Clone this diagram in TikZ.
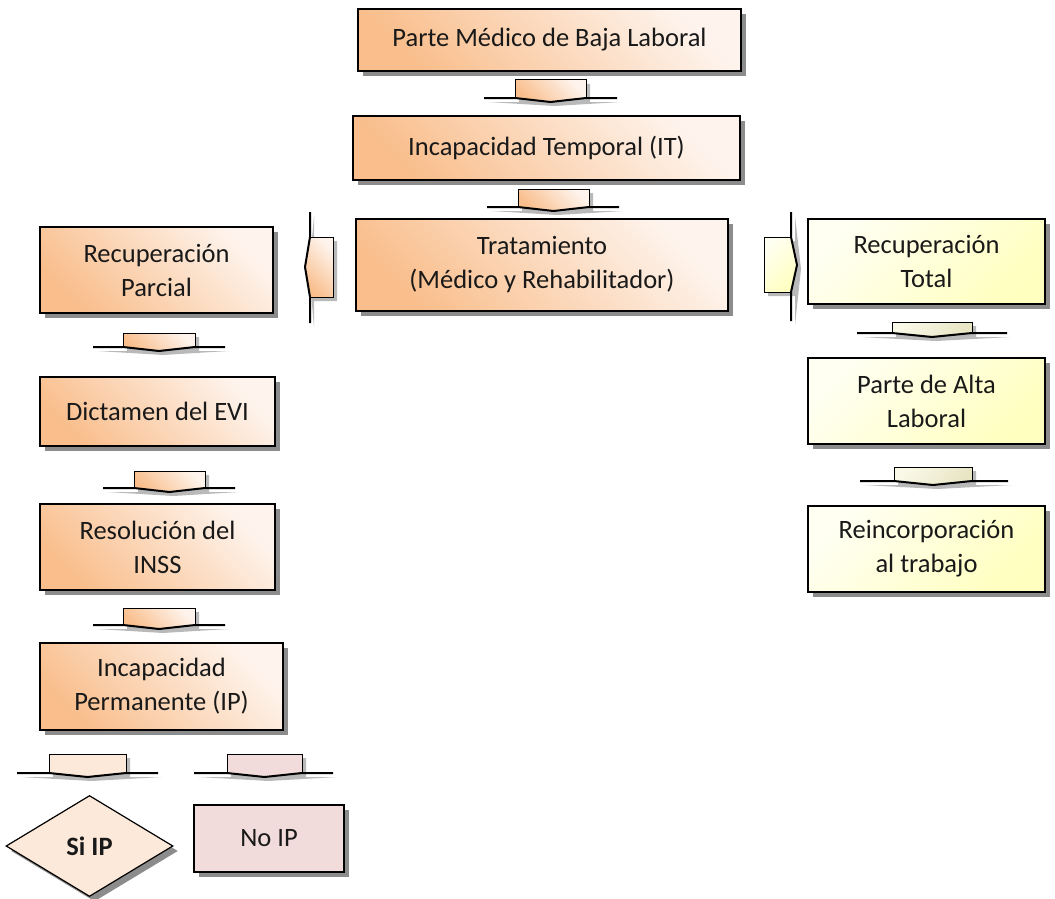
\documentclass[tikz,border=0pt]{standalone}
\usepackage{fontspec}
\setmainfont{Carlito}
\usetikzlibrary{shapes.geometric,shadows}

\definecolor{orD}{RGB}{249,190,140}
\definecolor{orL}{RGB}{254,244,237}
\definecolor{yeD}{RGB}{255,255,192}
\definecolor{yeL}{RGB}{255,255,242}
\definecolor{beD}{RGB}{232,229,196}
\definecolor{beL}{RGB}{250,249,232}
\definecolor{siipC}{RGB}{253,233,217}
\definecolor{noipC}{RGB}{242,220,219}
\definecolor{shadowC}{RGB}{128,128,128}

\tikzset{
  box/.style={draw=black, line width=1.2pt, inner sep=0pt, align=center,
    text=black!90, font=\fontsize{26.5}{34}\selectfont,
    drop shadow={shadow xshift=5pt, shadow yshift=-5pt, fill=shadowC, opacity=.9}},
  orfill/.style={top color=orL, bottom color=orD, shading angle=-45},
  yefill/.style={top color=yeL, bottom color=yeD, shading angle=45},
  befill/.style={top color=beL, bottom color=beD, shading angle=45},
  sifill/.style={fill=siipC},
  nofill/.style={fill=noipC},
  wingline/.style={line width=2pt, line join=round},
  bodyline/.style={line width=1pt},
  arrshadow/.style={fill=shadowC, opacity=.55},
}

% block arrow pointing down:
% #1 body left, #2 body right, #3 body top, #4 wing line, #5 wing left, #6 wing right, #7 fill style
\newcommand{\downblock}[7]{%
  \fill[arrshadow, shift={(4pt,-4pt)}]
    (#5,#4) -- (#1,#4) -- (#1,#3) -- (#2,#3) -- (#2,#4) -- (#6,#4)
    -- ({(#1+#2)/2},{#4+4}) -- cycle;
  \path[#7] (#1,#3) -- (#2,#3) -- (#2,#4) -- ({(#1+#2)/2},{#4+4}) -- (#1,#4) -- cycle;
  \draw[bodyline] (#1,#4) -- (#1,#3) -- (#2,#3) -- (#2,#4);
  \draw[wingline] (#5,#4) -- (#1,#4) -- ({(#1+#2)/2},{#4+4}) -- (#2,#4) -- (#6,#4);
}

\begin{document}
\begin{tikzpicture}[x=1pt, y=-1pt]
\useasboundingbox[fill=white] (0,0) rectangle (1055,899);

% central column
\node[box, orfill, minimum width=383pt, minimum height=62pt] (baja) at (549.5,40) {Parte Médico de Baja Laboral};
\node[box, orfill, minimum width=387pt, minimum height=64pt] (it) at (546.5,148) {Incapacidad Temporal (IT)};
\node[box, orfill, minimum width=372pt, minimum height=92pt] (trat) at (542,265) {Tratamiento\\(Médico y Rehabilitador)};

% right column
\node[box, yefill, minimum width=237pt, minimum height=85pt] (rtot) at (926.5,261.5) {Recuperación\\Total};
\node[box, yefill, minimum width=237pt, minimum height=86pt] (alta) at (926.5,401) {Parte de Alta\\Laboral};
\node[box, yefill, minimum width=237pt, minimum height=86pt] (reinc) at (926.5,549) {Reincorporación\\al trabajo};

% left column
\node[box, orfill, minimum width=233pt, minimum height=86pt] (rpar) at (156.5,270) {Recuperación\\Parcial};
\node[box, orfill, minimum width=235pt, minimum height=69pt] (evi) at (157.5,411.5) {Dictamen del EVI};
\node[box, orfill, minimum width=235pt, minimum height=86pt] (inss) at (157.5,547) {Resolución del\\INSS};
\node[box, orfill, minimum width=243pt, minimum height=87pt] (ip) at (161.5,686.5) {Incapacidad\\Permanente (IP)};

% outcomes
\node[box, sifill, shape=diamond, minimum width=167pt, minimum height=101pt, font=\fontsize{26.5}{34}\selectfont\bfseries] (siip) at (89.5,846) {Si IP};
\node[box, nofill, minimum width=150pt, minimum height=67pt] (noip) at (269,838.5) {No IP};

% downward block arrows
\downblock{515}{586}{80}{98}{484}{617}{orfill}
\downblock{518}{589}{189}{207}{487}{619}{orfill}
\downblock{123}{195}{333}{347}{93}{225}{orfill}
\downblock{134}{205}{471}{488}{103}{235}{orfill}
\downblock{123}{195}{608}{625}{93}{225}{orfill}
\downblock{49}{126}{754}{773}{17}{158}{sifill}
\downblock{227}{302}{754}{773}{194}{333}{nofill}
\downblock{892}{972}{322}{333}{857}{1007}{befill}
\downblock{894}{972}{467}{481}{860}{1008}{befill}

% sideways block arrow to the left
\fill[arrshadow, shift={(4pt,-4pt)}] (310,212) -- (310,237) -- (333,237) -- (333,297) -- (310,297) -- (310,323) -- (305,267) -- cycle;
\path[orfill] (310,237) -- (333,237) -- (333,297) -- (310,297) -- (305,267) -- cycle;
\draw[bodyline] (310,237) -- (333,237) -- (333,297) -- (310,297);
\draw[wingline] (310,212) -- (310,237) -- (305,267) -- (310,297) -- (310,323);

% sideways block arrow to the right
\fill[arrshadow, shift={(4pt,-4pt)}] (791,212) -- (791,237) -- (764,237) -- (764,292) -- (791,292) -- (791,321) -- (797,265) -- cycle;
\path[yefill] (791,237) -- (764,237) -- (764,292) -- (791,292) -- (797,265) -- cycle;
\draw[bodyline] (791,237) -- (764,237) -- (764,292) -- (791,292);
\draw[wingline] (791,212) -- (791,237) -- (797,265) -- (791,292) -- (791,321);
\end{tikzpicture}
\end{document}
